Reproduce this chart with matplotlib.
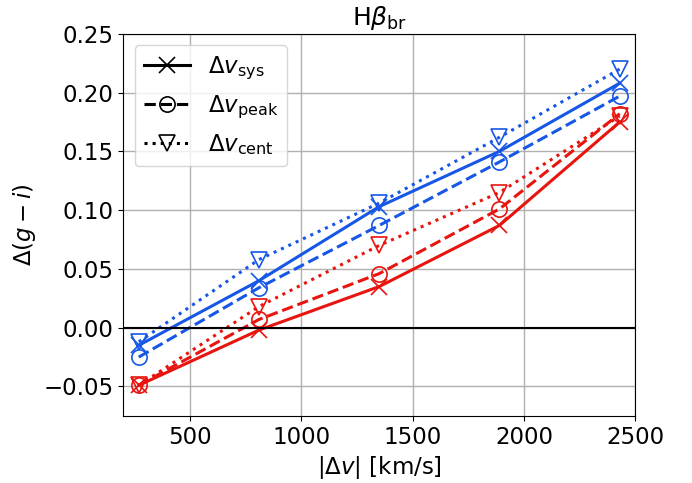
import matplotlib.pyplot as plt
import numpy as np

dv = [270, 810, 1350, 1890, 2430]

blue_sys = [-0.015, 0.040, 0.103, 0.150, 0.208]
blue_peak = [-0.025, 0.034, 0.087, 0.141, 0.197]
blue_cent = [-0.012, 0.058, 0.106, 0.162, 0.220]

red_sys = [-0.049, -0.002, 0.035, 0.087, 0.175]
red_peak = [-0.049, 0.007, 0.046, 0.101, 0.182]
red_cent = [-0.049, 0.018, 0.070, 0.115, 0.180]

blue = '#1757e6'
red = '#e8140f'

plt.rcParams['font.size'] = 16.5

fig = plt.figure(figsize=(6.92, 4.83), dpi=100)
ax = fig.add_axes([0.178, 0.139, 0.740, 0.791])

styles = [('-', 'x'), ('--', 'o'), (':', 'v')]
for c, series in [(blue, [blue_sys, blue_peak, blue_cent]), (red, [red_sys, red_peak, red_cent])]:
    for (ls, mk), y in zip(styles, series):
        ax.plot(dv, y, color=c, ls=ls, lw=2.2, marker=mk, ms=11,
                mfc='none', mec=c, mew=1.2)

ax.axhline(0, color='k', lw=1.5)

labels = [r'$\Delta v_{\rm sys}$', r'$\Delta v_{\rm peak}$', r'$\Delta v_{\rm cent}$']
for (ls, mk), lab in zip(styles, labels):
    ax.plot([], [], color='k', ls=ls, lw=2.2, marker=mk, ms=11, mfc='none', mec='k', mew=1.2, label=lab)
ax.legend(loc='upper left', fontsize=16.5)

ax.set_xlim(200, 2500)
ax.set_ylim(-0.075, 0.25)
ax.set_xticks([500, 1000, 1500, 2000, 2500])
ax.set_yticks(np.arange(-0.05, 0.26, 0.05))
ax.grid(True, color='#b0b0b0', lw=1)
ax.set_axisbelow(True)

ax.set_title(r'H$\beta_{\rm br}$', fontsize=18)
ax.set_xlabel(r'$|\Delta v|$ [km/s]')
ax.set_ylabel(r'$\Delta(g-i)$')

fig.savefig('out.png', dpi=100)
